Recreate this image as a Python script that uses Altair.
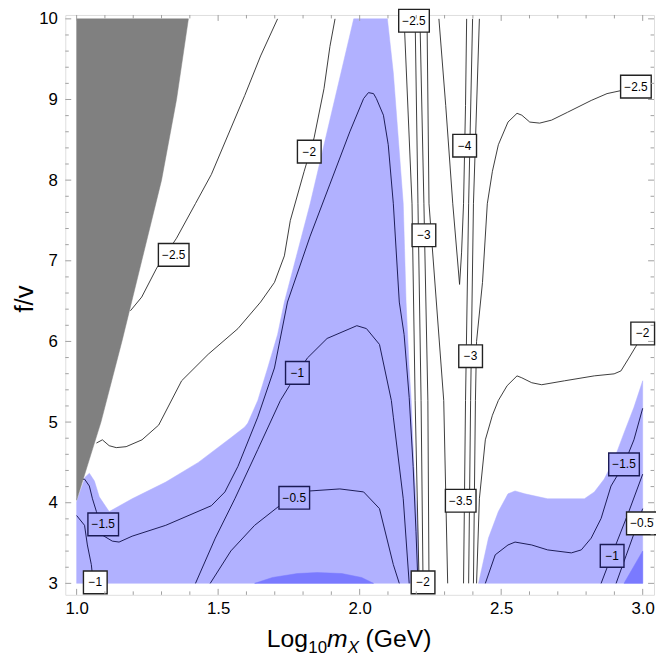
import altair as alt
import pandas as pd

# ---------------- regions (data units) ----------------
gray_x = [1.0, 1.395, 1.353, 1.30, 1.23, 1.16, 1.086, 1.0]
gray_y = [10.0, 10.0, 9.0, 8.0, 7.0, 6.0, 5.0, 4.03]

blueL_x = [1.0, 1.0, 1.030, 1.045, 1.063, 1.080, 1.115, 1.196, 1.315, 1.430, 1.545, 1.594,
           1.605, 1.640, 1.675, 1.710, 1.734, 1.825, 1.979, 2.098, 2.119, 2.154, 2.164,
           2.175, 2.182, 2.192, 2.206, 2.210]
blueL_y = [3.0, 4.012, 4.317, 4.366, 4.268, 4.073, 3.890, 4.049, 4.256, 4.500, 4.805, 4.939,
           4.988, 5.268, 5.671, 6.085, 6.488, 7.707, 10.0, 10.0, 9.329, 7.707, 6.488,
           5.671, 5.268, 4.451, 3.646, 3.0]

blueR_x = [2.420, 2.455, 2.490, 2.524, 2.549, 2.584, 2.664, 2.794, 2.829, 2.864, 2.899,
           2.934, 2.969, 3.0, 3.0]
blueR_y = [3.0, 3.561, 3.890, 4.110, 4.146, 4.110, 4.049, 4.049, 4.134, 4.293, 4.537,
           4.866, 5.183, 5.512, 3.0]

darkA_x = [1.629, 1.692, 1.780, 1.850, 1.937, 2.007, 2.049]
darkA_y = [3.0, 3.073, 3.122, 3.134, 3.122, 3.073, 3.0]
darkB_x = [2.934, 3.0, 3.0]
darkB_y = [3.0, 3.402, 3.0]

# ---------------- contour lines (data units) ----------------
# black contours (outside the shaded region)
c25a_x = [1.190, 1.230, 1.283, 1.353, 1.420, 1.476, 1.535, 1.594, 1.650, 1.710]
c25a_y = [6.38, 6.55, 6.91, 7.28, 7.71, 8.07, 8.56, 9.05, 9.54, 10.0]

c20a_x = [1.070, 1.091, 1.115, 1.140, 1.175, 1.231, 1.290, 1.371, 1.465, 1.570, 1.650,
          1.699, 1.734, 1.755, 1.804, 1.839, 1.874, 1.895, 1.913]
c20a_y = [4.74, 4.78, 4.707, 4.683, 4.695, 4.78, 4.963, 5.512, 5.841, 6.159, 6.488,
          6.732, 7.061, 7.5, 8.11, 8.524, 9.134, 9.659, 10.0]

L1_x = [2.157, 2.185, 2.196, 2.210]
L1_y = [10.0, 7.707, 5.268, 3.0]
L2_x = [2.196, 2.206, 2.217, 2.224]
L2_y = [10.0, 7.707, 5.268, 3.0]
L3_x = [2.213, 2.227, 2.241, 2.245]
L3_y = [10.0, 7.707, 5.268, 3.0]
L4_x = [2.238, 2.245, 2.297, 2.311]
L4_y = [10.0, 7.707, 5.268, 3.0]

V_x = [2.280, 2.304, 2.329, 2.353, 2.360, 2.367, 2.374, 2.378]
V_y = [10.0, 8.927, 7.707, 6.707, 7.098, 7.707, 8.927, 10.0]

R2_x = [2.399, 2.385, 2.374, 2.367]
R2_y = [10.0, 7.707, 5.268, 3.0]
R3_x = [2.423, 2.402, 2.392, 2.385]
R3_y = [10.0, 7.707, 5.268, 3.0]

R4_x = [2.402, 2.409, 2.413, 2.434, 2.451, 2.469, 2.490, 2.524, 2.556, 2.573, 2.601,
        2.636, 2.678, 2.734, 2.818, 2.874, 2.923, 2.979, 3.0]
R4_y = [3.0, 5.268, 6.0, 6.732, 7.707, 8.11, 8.439, 8.72, 8.829, 8.805, 8.72,
        8.707, 8.744, 8.841, 8.988, 9.073, 9.11, 9.146, 9.17]

c20b_x = [2.413, 2.423, 2.444, 2.469, 2.490, 2.521, 2.556, 2.573, 2.608, 2.643, 2.724,
          2.829, 2.899, 2.923, 2.951, 2.976, 3.0]
c20b_y = [3.0, 4.049, 4.78, 5.085, 5.268, 5.451, 5.573, 5.549, 5.488, 5.463, 5.512,
          5.573, 5.598, 5.634, 5.793, 5.939, 6.098]

# navy contours (inside the shaded region)
c15a_x = [1.023, 1.028, 1.045, 1.056, 1.070, 1.091, 1.126, 1.150, 1.196, 1.315, 1.476,
          1.524, 1.570, 1.640, 1.699, 1.745, 1.825, 1.895, 1.965, 2.014, 2.031, 2.049,
          2.059, 2.084, 2.101, 2.119, 2.140, 2.157, 2.175, 2.189, 2.199, 2.206]
c15a_y = [4.29, 4.293, 4.207, 4.049, 3.890, 3.598, 3.524, 3.512, 3.585, 3.720, 3.963,
          4.134, 4.451, 5.061, 5.671, 6.488, 7.305, 7.951, 8.598, 9.012, 9.085, 9.073,
          9.012, 8.805, 8.439, 7.707, 6.488, 6.085, 5.305, 4.451, 3.646, 3.0]

c10a_x = [1.0, 1.028, 1.038, 1.052, 1.059]
c10a_y = [3.841, 3.720, 3.476, 3.232, 3.0]

c10b_x = [1.420, 1.490, 1.559, 1.640, 1.720, 1.752, 1.815, 1.885, 1.990, 2.024, 2.070,
          2.112, 2.119, 2.154, 2.175]
c10b_y = [3.0, 3.561, 4.049, 4.659, 5.268, 5.451, 5.793, 6.037, 6.195, 6.159, 5.963,
          5.268, 5.061, 4.049, 3.0]

c05a_x = [1.472, 1.545, 1.629, 1.717, 1.769, 1.825, 1.930, 2.014, 2.070, 2.119, 2.140]
c05a_y = [3.0, 3.402, 3.720, 3.963, 4.061, 4.146, 4.171, 4.134, 3.927, 3.232, 3.0]

c15b_x = [2.444, 2.479, 2.524, 2.549, 2.608, 2.664, 2.748, 2.783, 2.818, 2.853, 2.888,
          2.934, 2.969, 3.0]
c15b_y = [3.0, 3.354, 3.476, 3.512, 3.476, 3.415, 3.378, 3.415, 3.561, 3.805, 4.207,
          4.476, 4.780, 5.171]

c10c_x = [2.853, 2.906, 2.951, 3.0]
c10c_y = [3.0, 3.488, 3.890, 4.354]

c05b_x = [2.906, 2.941, 2.976, 3.0]
c05b_y = [3.0, 3.341, 3.683, 3.927]

# ---------------- contour labels ----------------
lab_x = [1.343, 1.822, 1.094, 1.066, 1.780, 1.769, 2.192, 2.371, 2.227, 2.392, 2.357,
         2.224, 2.976, 3.0, 2.934, 2.892, 2.997]
lab_y = [7.073, 8.354, 3.732, 3.012, 5.61, 4.061, 9.976, 8.427, 7.317, 5.817, 4.024,
         3.012, 9.159, 6.098, 4.476, 3.341, 3.744]
lab_v = [-2.5, -2, -1.5, -1, -1, -0.5, -2.5, -4, -3, -3, -3.5,
         -2, -2.5, -2, -1.5, -1, -0.5]
lab_in = [0, 0, 1, 0, 1, 1, 0, 0, 0, 0, 0,
          0, 0, 0, 1, 1, 0]

# ---------------- axis ticks ----------------
x_major = [1.0, 1.5, 2.0, 2.5, 3.0]
x_minor = [1.1, 1.2, 1.3, 1.4, 1.6, 1.7, 1.8, 1.9, 2.1, 2.2, 2.3, 2.4, 2.6, 2.7, 2.8, 2.9]
y_major = [3, 4, 5, 6, 7, 8, 9, 10]
y_minor = [3.2, 3.4, 3.6, 3.8, 4.2, 4.4, 4.6, 4.8, 5.2, 5.4, 5.6, 5.8, 6.2, 6.4, 6.6, 6.8,
           7.2, 7.4, 7.6, 7.8, 8.2, 8.4, 8.6, 8.8, 9.2, 9.4, 9.6, 9.8]

# ---------------- build ----------------
W, H = 596, 587
FONT = "Liberation Sans"
XS = alt.Scale(domain=[0.96, 3.04], nice=False, zero=False)
YS = alt.Scale(domain=[2.858, 10.048], nice=False, zero=False)
FRAME = "#a0a0a0"

X_AXIS = alt.Axis(values=x_major, format=".1f", title=None, grid=False, ticks=False,
                  domain=False, labelFont=FONT, labelFontSize=17, labelColor="black",
                  labelPadding=6)
Y_AXIS = alt.Axis(values=y_major, format="d", title="f/v", grid=False, ticks=False,
                  domain=False, labelFont=FONT, labelFontSize=17, labelColor="black",
                  labelPadding=8, titleFont=FONT, titleFontSize=26,
                  titleFontWeight="normal", titleColor="black", titleAngle=270,
                  titleAlign="center", titleBaseline="middle", titleX=-41, titleY=287)


def X(field="x"):
    return alt.X(f"{field}:Q", scale=XS, axis=X_AXIS, title=None)


def Y(field="y"):
    return alt.Y(f"{field}:Q", scale=YS, axis=Y_AXIS, title="f/v")


def frame(pairs):
    rows = []
    for name, xs, ys in pairs:
        for i, (a, b) in enumerate(zip(xs, ys)):
            rows.append({"x": a, "y": b, "i": i, "g": name})
    return pd.DataFrame(rows)


def enc(ch):
    return ch.encode(x=X(), y=Y(), detail="g:N", order="i:Q")


blue = enc(alt.Chart(frame([("L", blueL_x, blueL_y), ("R", blueR_x, blueR_y)])).mark_line(
    fill="#b1b1ff", stroke="#b1b1ff", strokeWidth=0.5, interpolate="linear-closed"))
dark = enc(alt.Chart(frame([("A", darkA_x, darkA_y), ("B", darkB_x, darkB_y)])).mark_line(
    fill="#7a7aff", stroke="#7a7aff", strokeWidth=0.5, interpolate="linear-closed"))
gray = enc(alt.Chart(frame([("G", gray_x, gray_y)])).mark_line(
    fill="#808080", stroke="#808080", strokeWidth=0.5, interpolate="linear-closed"))

black_lines = enc(alt.Chart(frame([
    ("a", c25a_x, c25a_y), ("b", c20a_x, c20a_y), ("L1", L1_x, L1_y), ("L2", L2_x, L2_y),
    ("L3", L3_x, L3_y), ("L4", L4_x, L4_y), ("V", V_x, V_y), ("R2", R2_x, R2_y),
    ("R3", R3_x, R3_y), ("R4", R4_x, R4_y), ("c", c20b_x, c20b_y)])).mark_line(
    color="#262626", strokeWidth=0.9))
navy_lines = enc(alt.Chart(frame([
    ("a", c15a_x, c15a_y), ("b", c10a_x, c10a_y), ("c", c10b_x, c10b_y),
    ("d", c05a_x, c05a_y), ("e", c15b_x, c15b_y), ("f", c10c_x, c10c_y),
    ("g", c05b_x, c05b_y)])).mark_line(color="#1a1a55", strokeWidth=1.0))

labels = pd.DataFrame({"x": lab_x, "y": lab_y, "v": lab_v, "inside": lab_in})
labels["t"] = labels["v"].map(lambda v: ("%g" % v).replace("-", "\u2212"))
labels["bg"] = labels["inside"].map({0: "white", 1: "#b1b1ff"})
labels["bd"] = labels["inside"].map({0: "#222222", 1: "#1a1a55"})
labels["long"] = labels["t"].str.len() > 2

SHORT = "M-1,-0.958L1,-0.958L1,0.958L-1,0.958Z"
LONG = "M-1,-0.742L1,-0.742L1,0.742L-1,0.742Z"


def boxes(sub, shape, size):
    return alt.Chart(sub).mark_point(shape=shape, size=size, filled=True, opacity=1,
                                     strokeWidth=1.4).encode(
        x=X(), y=Y(),
        fill=alt.Fill("bg:N", scale=None),
        stroke=alt.Stroke("bd:N", scale=None),
    )


box_s = boxes(labels[~labels["long"]], SHORT, 576)
box_l = boxes(labels[labels["long"]], LONG, 961)
lab_text = alt.Chart(labels).mark_text(font=FONT, fontSize=12, color="black").encode(
    x=X(), y=Y(), text="t:N")


def hticks(vals, ypos, ypos2):
    return alt.Chart(pd.DataFrame({"x": vals})).mark_rule(color=FRAME, strokeWidth=1).encode(
        x=X(), y=alt.value(ypos), y2=alt.value(ypos2))


def vticks(vals, xpos, xpos2):
    return alt.Chart(pd.DataFrame({"y": vals})).mark_rule(color=FRAME, strokeWidth=1).encode(
        y=Y(), x=alt.value(xpos), x2=alt.value(xpos2))


ticks = [
    hticks(x_major, H, H - 6), hticks(x_minor, H, H - 3.5),
    hticks(x_major, 0, 6), hticks(x_minor, 0, 3.5),
    vticks(y_major, 0, 6), vticks(y_minor, 0, 3.5),
    vticks(y_major, W, W - 6), vticks(y_minor, W, W - 3.5),
]

# x-axis title: Log_10 m_X (GeV)
tbase = H + 53
title_parts = [
    ("Log", 204, tbase, 25, "normal"),
    ("10", 246, tbase + 6, 17, "normal"),
    ("m", 265, tbase, 25, "italic"),
    ("X", 286, tbase + 6, 17, "italic"),
    ("(GeV)", 304, tbase, 25, "normal"),
]
title_layers = []
for txt, px, py, fs, st in title_parts:
    title_layers.append(
        alt.Chart(pd.DataFrame({"t": [txt]})).mark_text(
            font=FONT, fontSize=fs, fontStyle=st, align="left", baseline="alphabetic",
            color="black").encode(text="t:N", x=alt.value(px), y=alt.value(py)))

chart = alt.layer(blue, dark, gray, black_lines, navy_lines, box_s, box_l, lab_text,
                  *ticks, *title_layers).properties(
    width=W, height=H,
    autosize=alt.AutoSizeParams(type="none"),
    padding={"left": 58, "top": 3, "right": 2, "bottom": 68},
).configure_view(stroke=FRAME, strokeWidth=1).configure(background="white")

chart.save("out.html", embed_options={"renderer": "svg", "actions": False})
